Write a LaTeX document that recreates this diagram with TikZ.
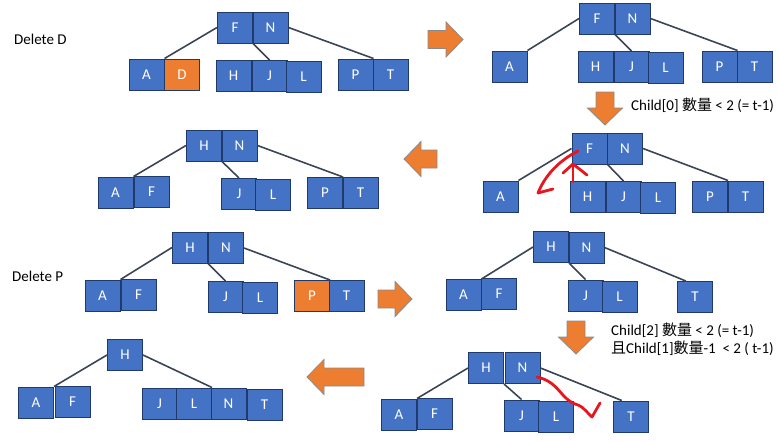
\documentclass[tikz,border=0pt]{standalone}
\usepackage{fontspec}
\setmainfont{Carlito}
\newfontfamily\cjk{Noto Sans CJK TC}
\definecolor{keyblue}{HTML}{4472C4}
\definecolor{keyedge}{HTML}{203A6C}
\definecolor{keyorange}{HTML}{ED7D31}
\definecolor{linkgray}{HTML}{3B4556}
\definecolor{arrowgray}{HTML}{8A8A8A}
\definecolor{penred}{HTML}{E8141E}
\tikzset{
  key/.style={draw=keyedge, fill=keyblue, text=white, line width=1pt, minimum width=35pt, minimum height=31pt, inner sep=0pt, font=\fontsize{15}{18}\selectfont},
  gone/.style={key, fill=keyorange},
  link/.style={draw=linkgray, line width=1.6pt},
  fatarrow/.style={fill=keyorange, draw=arrowgray, line width=0.8pt},
  pen/.style={draw=penred, line width=2.8pt, line cap=round, line join=round},
  note/.style={anchor=west, inner sep=0pt, align=left, font=\fontsize{15}{18}\selectfont}
}
% center x, center y, angle, length
\newcommand{\fatarrow}[4]{%
  \draw[fatarrow, shift={(#1,#2)}, rotate=#3] ({-#4/2},-9) -- ({#4/2-17},-9) -- ({#4/2-17},-17.5) -- ({#4/2},0) -- ({#4/2-17},17.5) -- ({#4/2-17},9) -- ({-#4/2},9) -- cycle;}
\begin{document}
\begin{tikzpicture}[x=1pt, y=-1pt]
\useasboundingbox (0,0) rectangle (780,442);
\node[note] (delD) at (14,39){Delete D};
\node[note] (delP) at (12,276){Delete P};
% tree 1
\node[key] (t1F) at (235,27.5){F};
\node[key] (t1N) at (270.5,27.5){N};
\node[key] (t1A) at (146.5,74.5){A};
\node[gone] (t1D) at (182,74.5){D};
\node[key] (t1H) at (233.5,76){H};
\node[key] (t1J) at (269.5,76){J};
\node[key] (t1L) at (303.5,76.5){L};
\node[key] (t1P) at (355.5,74.5){P};
\node[key] (t1T) at (390.5,74.5){T};
\draw[link](t1F.west) -- (t1A.north east);
\draw[link](t1F.south east) -- (t1J.north);
\draw[link](t1N.east) -- (t1P.north east);
% tree 2
\node[key] (t2F) at (597,18.5){F};
\node[key] (t2N) at (632.5,18.5){N};
\node[key] (t2A) at (509.5,66.5){A};
\node[key] (t2H) at (595.5,67){H};
\node[key] (t2J) at (631.5,67){J};
\node[key] (t2L) at (665.5,68){L};
\node[key] (t2P) at (719.5,66.5){P};
\node[key] (t2T) at (754.5,66.5){T};
\draw[link](t2F.west) -- (t2A.north east);
\draw[link](t2F.south east) -- (t2J.north);
\draw[link](t2N.east) -- (t2P.north east);
% tree 3
\node[key] (t3F) at (589.5,148.5){F};
\node[key] (t3N) at (625,148.5){N};
\node[key] (t3A) at (500.5,196.5){A};
\node[key] (t3H) at (587.5,197){H};
\node[key] (t3J) at (623.5,197){J};
\node[key] (t3L) at (658,197.5){L};
\node[key] (t3P) at (710,196.5){P};
\node[key] (t3T) at (745.5,196.5){T};
\draw[link](t3F.west) -- (t3A.north east);
\draw[link](t3F.south east) -- (t3J.north);
\draw[link](t3N.east) -- (t3P.north east);
\draw[pen] (578,151) .. controls (560,160) and (545,175) .. (538,193) -- (553,189);
\draw[pen] (573,182) -- (573,165);
\draw[pen] (563,173) -- (573,164) -- (587,175);
% tree 4
\node[key] (t4H) at (204,145.5){H};
\node[key] (t4N) at (239.5,145.5){N};
\node[key] (t4A) at (115.5,192.5){A};
\node[key] (t4F) at (151.5,192){F};
\node[key] (t4J) at (239,194){J};
\node[key] (t4L) at (273,194.5){L};
\node[key] (t4P) at (325,193){P};
\node[key] (t4T) at (360.5,193){T};
\draw[link](t4H.west) -- (t4A.north east);
\draw[link](t4H.south east) -- (t4J.north);
\draw[link](t4N.east) -- (t4P.north east);
% tree 5
\node[key] (t5H) at (190,247.5){H};
\node[key] (t5N) at (226,248){N};
\node[key] (t5A) at (102.5,295.5){A};
\node[key] (t5F) at (138.5,294.5){F};
\node[key] (t5J) at (225.5,297){J};
\node[key] (t5L) at (260,297.5){L};
\node[gone] (t5P) at (312,296){P};
\node[key] (t5T) at (346.5,296){T};
\draw[link](t5H.west) -- (t5A.north east);
\draw[link](t5H.south east) -- (t5J.north);
\draw[link](t5N.east) -- (t5P.north east);
% tree 6
\node[key] (t6H) at (551,247){H};
\node[key] (t6N) at (586.5,247.5){N};
\node[key] (t6A) at (463.5,295){A};
\node[key] (t6F) at (499,293.5){F};
\node[key] (t6J) at (585.5,295.5){J};
\node[key] (t6L) at (619.5,297){L};
\node[key] (t6T) at (695,297){T};
\draw[link](t6H.west) -- (t6A.north east);
\draw[link](t6H.south east) -- (t6J.north);
\draw[link](t6N.east) -- (t6T.120);
% tree 7
\node[key] (t7H) at (486,368){H};
\node[key] (t7N) at (522.5,368){N};
\node[key] (t7A) at (399,414.5){A};
\node[key] (t7F) at (434.5,413.5){F};
\node[key] (t7J) at (521.5,415.5){J};
\node[key] (t7L) at (556,416.5){L};
\node[key] (t7T) at (631,416.5){T};
\draw[link](t7H.west) -- (t7A.north east);
\draw[link](t7H.south east) -- (t7J.north);
\draw[link](t7N.east) -- (t7T.120);
\draw[pen] (537,377) .. controls (560,382) and (560,400) .. (578,405) .. controls (585,408) and (588,414) .. (592,417) -- (600,403);
% tree 8
\node[key] (t8H) at (125,355){H};
\node[key] (t8A) at (36,402.5){A};
\node[key] (t8F) at (72.5,401.5){F};
\node[key] (t8J) at (159.5,403.5){J};
\node[key] (t8L) at (194,403.5){L};
\node[key] (t8N) at (228.5,403.5){N};
\node[key] (t8T) at (264.5,405){T};
\draw[link](t8H.west) -- (t8A.north east);
\draw[link](t8H.east) -- (t8L.north east);
% steps
\fatarrow{445.5}{39.5}{0}{35}
\fatarrow{605}{108.5}{-90}{33}
\fatarrow{420.5}{159}{180}{33}
\fatarrow{395}{299}{0}{34}
\fatarrow{576}{337.5}{-90}{33}
\fatarrow{335.5}{377}{180}{57}
\node[note] (rule0) at (631,105){Child[0] {\cjk 數量} < 2 (= t-1)};
\node[note] (rule2) at (611,339){Child[2] {\cjk 數量} < 2 (= t-1)\\{\cjk 且}Child[1]{\cjk 數量}-1~~< 2 ( t-1)};
\end{tikzpicture}
\end{document}
